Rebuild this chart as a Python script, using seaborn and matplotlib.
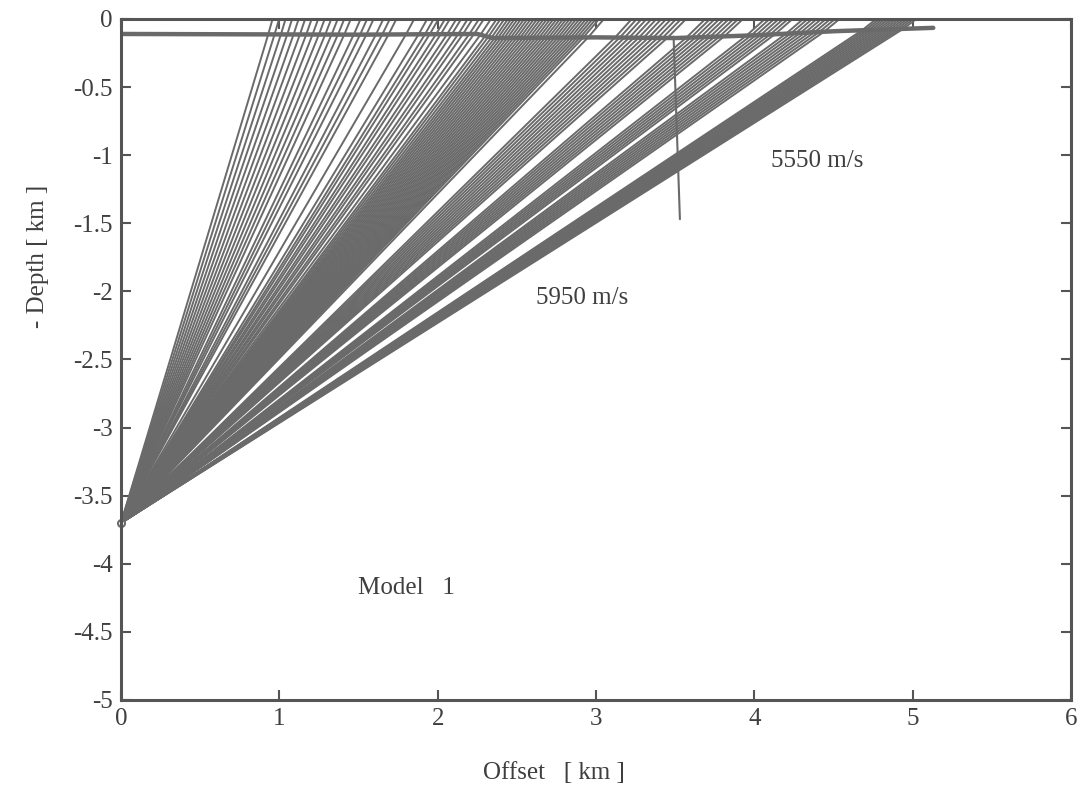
import numpy as np
import pandas as pd
import seaborn as sns
import matplotlib
matplotlib.use('Agg')
import matplotlib.pyplot as plt

# ray crossing points on the interface [km]
ray_offsets = [
    0.93, 0.97, 1.01, 1.05, 1.09, 1.13, 1.17, 1.21, 1.25, 1.29, 1.33, 1.37, 1.41, 1.47, 1.51, 1.55, 1.61, 1.65, 1.69,
    1.80,
    1.88, 1.92, 1.95, 1.99, 2.02, 2.06, 2.09, 2.13, 2.16, 2.20, 2.23, 2.27,
    2.30, 2.32, 2.34, 2.36, 2.38, 2.40, 2.42, 2.44, 2.46, 2.48, 2.50, 2.52, 2.54, 2.56, 2.58, 2.60, 2.62,
    2.64, 2.66, 2.68, 2.70, 2.72, 2.74, 2.76, 2.78, 2.80, 2.82, 2.84, 2.86, 2.88, 2.90, 2.92, 2.95,
    3.12, 3.15, 3.18, 3.21, 3.24, 3.27, 3.30, 3.33, 3.36, 3.39, 3.42, 3.45,
    3.57, 3.60, 3.63, 3.66, 3.69, 3.72, 3.75, 3.78, 3.81,
    3.95, 3.98, 4.01, 4.04, 4.07, 4.10, 4.13,
    4.20, 4.23, 4.26, 4.29, 4.32, 4.35, 4.38, 4.41, 4.44,
    4.68, 4.70, 4.72, 4.74, 4.76, 4.78, 4.80, 4.82, 4.84, 4.86, 4.88, 4.90, 4.92, 4.94,
]

# interface between the layers
iface_x = [0.0, 1.5, 2.25, 2.35, 3.0, 3.5, 4.0, 4.5, 5.13]
iface_z = [-0.11, -0.115, -0.11, -0.14, -0.135, -0.14, -0.12, -0.09, -0.065]

# short vertical boundary
vline_x = [3.49, 3.53]
vline_z = [-0.13, -1.47]

source_x = 0.0
source_z = -3.7
v_lower = 5950.0
v_upper = 5550.0

x_ticks = [0, 1, 2, 3, 4, 5, 6]
y_ticks = [0, -0.5, -1, -1.5, -2, -2.5, -3, -3.5, -4, -4.5, -5]
y_ticklabels = ['0', '-0.5', '-1', '-1.5', '-2', '-2.5', '-3', '-3.5', '-4', '-4.5', '-5']

# build ray table: source -> interface -> surface (Snell)
rows = []
for i, xi in enumerate(ray_offsets):
    zi = np.interp(xi, iface_x, iface_z)
    dx = xi - source_x
    dz = zi - source_z
    s1 = dx / np.hypot(dx, dz)
    s2 = s1 * v_upper / v_lower
    xs = xi + abs(zi) * s2 / np.sqrt(1 - s2 ** 2)
    rows += [(i, source_x, source_z), (i, xi, zi), (i, xs, 0.0)]
rays = pd.DataFrame(rows, columns=['ray', 'offset', 'depth'])
iface = pd.DataFrame({'offset': iface_x, 'depth': iface_z})
vbound = pd.DataFrame({'offset': vline_x, 'depth': vline_z})

sns.set_style('ticks')
plt.rcParams['font.family'] = ['Liberation Serif', 'DejaVu Serif']
plt.rcParams['axes.unicode_minus'] = False

gray = '#6a6a6a'
txt = '#3f3f3f'
fig = plt.figure(figsize=(10.86, 8.01), dpi=100)
ax = fig.add_axes([0.1114, 0.1261, 0.8748, 0.8502])

sns.lineplot(data=rays, x='offset', y='depth', units='ray', estimator=None, sort=False,
             color=gray, lw=1.4, ax=ax)
sns.lineplot(data=iface, x='offset', y='depth', sort=False, color=gray, lw=3.2, ax=ax)
sns.lineplot(data=vbound, x='offset', y='depth', sort=False, color=gray, lw=1.5, ax=ax)
ax.plot([source_x], [source_z], marker='o', ms=5, mfc='white', mec=gray, mew=1.5, clip_on=False)

ax.set_xlim(0, 6)
ax.set_ylim(-5, 0)
ax.set_xticks(x_ticks)
ax.set_xticklabels([str(t) for t in x_ticks])
ax.set_yticks(y_ticks)
ax.set_yticklabels(y_ticklabels)
ax.tick_params(direction='in', top=True, right=True, length=7, width=1.5,
               color='#555555', labelsize=18, labelcolor=txt, pad=6)
for sp in ax.spines.values():
    sp.set_color('#555555')
    sp.set_linewidth(2.2)
ax.set_xlabel('')
ax.set_ylabel('')

fig.text(0.51, 0.035, 'Offset   [ km ]', ha='center', va='center', fontsize=18, color=txt)
fig.text(0.035, 0.68, '- Depth [ km ]', ha='center', va='center', rotation=90, fontsize=18, color=txt)
ax.text(4.40, -1.04, '5550 m/s', ha='center', va='center', fontsize=18, color=txt)
ax.text(2.91, -2.05, '5950 m/s', ha='center', va='center', fontsize=18, color=txt)
ax.text(1.50, -4.18, 'Model   1', ha='left', va='center', fontsize=18, color=txt)

fig.savefig('out.png', dpi=100)
